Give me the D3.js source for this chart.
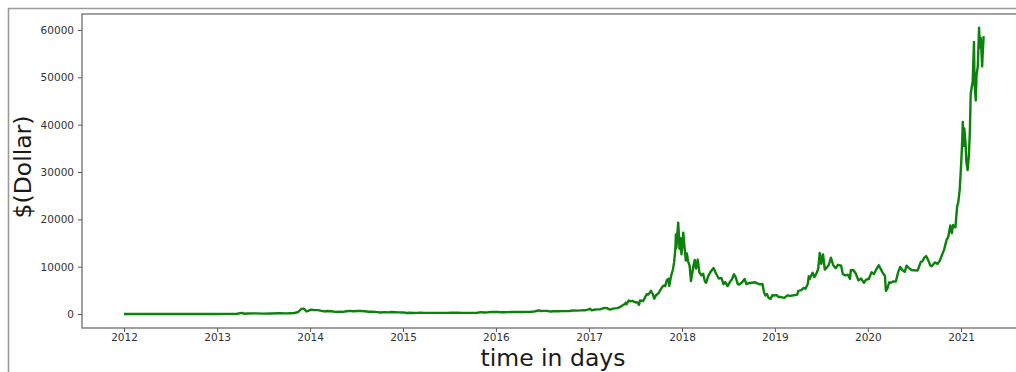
<!DOCTYPE html>
<html>
<head>
<meta charset="utf-8">
<script src="https://cdn.jsdelivr.net/npm/d3@7"></script>
<style>
  html, body { margin: 0; padding: 0; background: #fff; }
  svg { display: block; font-family: "DejaVu Sans", sans-serif; }
</style>
</head>
<body>
<svg id="chart" width="1016" height="372"></svg>
<script>
// Bitcoin closing price (USD), sampled dates
const dates = [
  "2012-01-01","2012-02-01","2012-03-01","2012-04-01","2012-05-01","2012-06-01","2012-07-01","2012-08-01","2012-08-17","2012-09-01",
  "2012-10-01","2012-11-01","2012-12-01","2013-01-01","2013-02-01","2013-03-01","2013-03-20","2013-04-09","2013-04-16","2013-05-01",
  "2013-06-01","2013-07-01","2013-08-01","2013-09-01","2013-10-01","2013-10-15","2013-11-01","2013-11-15","2013-11-22","2013-11-30",
  "2013-12-05","2013-12-10","2013-12-18","2013-12-25","2014-01-05","2014-01-15","2014-02-01","2014-02-15","2014-02-25","2014-03-10",
  "2014-03-25","2014-04-10","2014-04-25","2014-05-10","2014-05-25","2014-06-05","2014-06-20","2014-07-05","2014-07-20","2014-08-05",
  "2014-08-18","2014-09-05","2014-09-22","2014-10-05","2014-10-20","2014-11-05","2014-11-15","2014-12-01","2014-12-15","2014-12-31",
  "2015-01-10","2015-01-14","2015-01-25","2015-02-10","2015-02-25","2015-03-10","2015-03-25","2015-04-10","2015-04-25","2015-05-10",
  "2015-05-25","2015-06-10","2015-06-25","2015-07-10","2015-07-20","2015-08-05","2015-08-20","2015-09-05","2015-09-20","2015-10-05",
  "2015-10-20","2015-11-04","2015-11-15","2015-12-01","2015-12-15","2015-12-31","2016-01-10","2016-01-20","2016-02-01","2016-02-15",
  "2016-03-01","2016-03-15","2016-04-01","2016-04-15","2016-05-01","2016-05-15","2016-06-01","2016-06-12","2016-06-17","2016-06-25",
  "2016-07-05","2016-07-20","2016-08-02","2016-08-15","2016-09-01","2016-09-15","2016-10-01","2016-10-15","2016-11-01","2016-11-15",
  "2016-12-01","2016-12-15","2016-12-31","2017-01-04","2017-01-11","2017-01-20","2017-02-01","2017-02-15","2017-03-03","2017-03-12",
  "2017-03-24","2017-04-05","2017-04-20","2017-05-01","2017-05-10","2017-05-20","2017-05-25","2017-05-28","2017-06-06","2017-06-12",
  "2017-06-20","2017-07-01","2017-07-10","2017-07-16","2017-07-20","2017-08-01","2017-08-08","2017-08-15","2017-08-22","2017-09-01",
  "2017-09-08","2017-09-14","2017-09-20","2017-10-01","2017-10-12","2017-10-20","2017-10-27","2017-11-02","2017-11-08","2017-11-12",
  "2017-11-19","2017-11-26","2017-12-01","2017-12-06","2017-12-08","2017-12-10","2017-12-13","2017-12-17","2017-12-20","2017-12-22",
  "2017-12-26","2017-12-30","2018-01-06","2018-01-10","2018-01-16","2018-01-20","2018-01-25","2018-01-31","2018-02-05","2018-02-10",
  "2018-02-15","2018-02-20","2018-02-25","2018-03-04","2018-03-10","2018-03-18","2018-03-25","2018-04-01","2018-04-06","2018-04-14",
  "2018-04-23","2018-05-05","2018-05-15","2018-05-25","2018-06-05","2018-06-13","2018-06-20","2018-06-29","2018-07-08","2018-07-17",
  "2018-07-24","2018-07-31","2018-08-08","2018-08-14","2018-08-25","2018-09-04","2018-09-11","2018-09-20","2018-10-01","2018-10-15",
  "2018-10-31","2018-11-13","2018-11-20","2018-11-25","2018-12-01","2018-12-07","2018-12-15","2018-12-22","2018-12-28","2019-01-08",
  "2019-01-15","2019-01-25","2019-02-07","2019-02-19","2019-03-01","2019-03-15","2019-03-30","2019-04-03","2019-04-15","2019-04-23",
  "2019-05-01","2019-05-10","2019-05-14","2019-05-17","2019-05-29","2019-06-05","2019-06-14","2019-06-20","2019-06-26","2019-06-28",
  "2019-07-02","2019-07-09","2019-07-16","2019-07-24","2019-08-01","2019-08-09","2019-08-18","2019-08-28","2019-09-06","2019-09-18",
  "2019-09-25","2019-10-05","2019-10-15","2019-10-23","2019-10-26","2019-11-05","2019-11-15","2019-11-25","2019-12-05","2019-12-17",
  "2019-12-25","2020-01-05","2020-01-15","2020-01-25","2020-02-05","2020-02-13","2020-02-20","2020-03-01","2020-03-08","2020-03-12",
  "2020-03-18","2020-03-25","2020-04-01","2020-04-10","2020-04-20","2020-04-29","2020-05-07","2020-05-15","2020-05-25","2020-06-01",
  "2020-06-10","2020-06-20","2020-07-01","2020-07-15","2020-07-27","2020-08-02","2020-08-10","2020-08-17","2020-08-25","2020-09-03",
  "2020-09-08","2020-09-20","2020-10-01","2020-10-10","2020-10-21","2020-10-27","2020-11-05","2020-11-12","2020-11-20","2020-11-26",
  "2020-12-01","2020-12-10","2020-12-17","2020-12-21","2020-12-27","2021-01-02","2021-01-06","2021-01-08","2021-01-11","2021-01-14",
  "2021-01-19","2021-01-22","2021-01-27","2021-02-01","2021-02-05","2021-02-08","2021-02-12","2021-02-16","2021-02-21","2021-02-23",
  "2021-02-28","2021-03-03","2021-03-08","2021-03-13","2021-03-16","2021-03-20","2021-03-25","2021-03-28","2021-03-31"
];

const prices = [
  5.3, 6.0, 4.9, 4.9, 5.0, 5.3, 6.7, 9.4, 11.9, 10.2,
  12.4, 10.6, 12.6, 13.3, 20.4, 34, 64, 230, 68, 116,
  128, 88, 106, 146, 132, 158, 206, 420, 790, 1130,
  1140, 980, 540, 680, 930, 840, 810, 650, 540, 620,
  580, 440, 500, 450, 580, 660, 595, 630, 620, 590,
  475, 480, 400, 320, 385, 340, 420, 380, 345, 320,
  285, 178, 255, 220, 238, 292, 247, 236, 228, 242,
  240, 229, 243, 270, 278, 280, 235, 240, 232, 240,
  270, 403, 320, 378, 455, 430, 448, 380, 373, 400,
  433, 415, 416, 430, 448, 456, 537, 690, 760, 630,
  670, 665, 540, 570, 572, 610, 615, 640, 730, 710,
  756, 780, 964, 1135, 780, 895, 985, 1010, 1285, 1230,
  935, 1130, 1240, 1420, 1750, 2050, 2400, 2050, 2870, 2660,
  2760, 2480, 2430, 1930, 2880, 2720, 3420, 4170, 4100, 4890,
  4230, 3230, 3900, 4400, 5440, 6000, 5900, 7100, 7460, 5950,
  8040, 9300, 10900, 13800, 16800, 14000, 16400, 19300, 16600, 13800,
  16000, 12600, 17200, 14600, 11300, 12800, 11100, 10200, 6950, 8500,
  10200, 11400, 9600, 11500, 8800, 8200, 8500, 6850, 6600, 8000,
  8900, 9700, 8500, 7500, 7600, 6300, 6750, 5900, 6750, 7400,
  8400, 7730, 6300, 6200, 6700, 7400, 6300, 6500, 6600, 6700,
  6300, 6350, 4450, 3900, 4200, 3400, 3200, 3950, 3900, 4000,
  3600, 3580, 3400, 3950, 3840, 3950, 4100, 4900, 5050, 5500,
  5350, 6350, 7980, 7350, 8700, 7800, 8700, 9500, 12900, 12400,
  10600, 12600, 9400, 9800, 10400, 11900, 10300, 9700, 10400, 10200,
  8400, 8150, 8300, 7400, 9250, 9300, 8500, 7100, 7500, 6600,
  7250, 7400, 8800, 8450, 9600, 10300, 9600, 8550, 8100, 4900,
  5400, 6700, 6600, 6900, 6850, 8800, 9950, 9300, 8900, 10200,
  9750, 9300, 9230, 9200, 11000, 11100, 11900, 12250, 11400, 10200,
  10100, 10900, 10600, 11300, 12800, 13650, 15600, 16300, 18700, 17100,
  18800, 18300, 22800, 23500, 26300, 32100, 36800, 40600, 35500, 39200,
  36000, 32100, 30400, 33500, 38900, 46400, 47900, 49200, 57500, 48800,
  45100, 50500, 52300, 60500, 56300, 58300, 52300, 55800, 58700
];

const yearTicks = ["2012","2013","2014","2015","2016","2017","2018","2019","2020","2021"];
const priceTicks = [0, 10000, 20000, 30000, 40000, 50000, 60000];

const parse = d3.timeParse("%Y-%m-%d");
const series = dates.map((d, i) => ({ date: parse(d), price: prices[i] }));

const svg = d3.select("#chart");

// plot box (right edge runs past the window)
const box = { left: 82, top: 14, right: 1024, bottom: 328 };

const x = d3.scaleTime()
  .domain([parse("2012-01-01"), parse("2021-01-01")])
  .range([124, 961]);

const y = d3.scaleLinear()
  .domain([0, 60000])
  .range([314, 30]);

// outer frame around the figure
svg.append("line")
  .attr("x1", 8).attr("x2", 1016).attr("y1", 8.5).attr("y2", 8.5)
  .attr("stroke", "#9a9a9a").attr("stroke-width", 1.6);
svg.append("line")
  .attr("x1", 8.5).attr("x2", 8.5).attr("y1", 8).attr("y2", 372)
  .attr("stroke", "#9a9a9a").attr("stroke-width", 1.6);

// axes
const xAxis = d3.axisBottom(x)
  .tickValues(yearTicks.map(t => d3.timeParse("%Y")(t)))
  .tickFormat(d3.timeFormat("%Y"))
  .tickSize(4).tickPadding(2);

const yAxis = d3.axisLeft(y)
  .tickValues(priceTicks)
  .tickFormat(d3.format("d"))
  .tickSize(4).tickPadding(4);

const gx = svg.append("g").attr("transform", `translate(0,${box.bottom})`).call(xAxis);
const gy = svg.append("g").attr("transform", `translate(${box.left},0)`).call(yAxis);

[gx, gy].forEach(g => {
  g.select(".domain").remove();
  g.selectAll(".tick line").attr("stroke", "#555").attr("stroke-width", 1);
  g.selectAll(".tick text")
    .attr("fill", "#333")
    .style("font-family", "'DejaVu Sans', sans-serif")
    .style("font-size", "10.5px");
});

// plot area spines
svg.append("rect")
  .attr("x", box.left).attr("y", box.top)
  .attr("width", box.right - box.left).attr("height", box.bottom - box.top)
  .attr("fill", "none").attr("stroke", "#6e6e6e").attr("stroke-width", 1.3);

// price line
const line = d3.line()
  .x(d => x(d.date))
  .y(d => y(d.price));

svg.append("path")
  .datum(series)
  .attr("d", line)
  .attr("fill", "none")
  .attr("stroke", "#0c820c")
  .attr("stroke-width", 2.4)
  .attr("stroke-linejoin", "round");

// axis titles
svg.append("text")
  .attr("x", 553).attr("y", 366)
  .attr("text-anchor", "middle")
  .attr("fill", "#1a1a1a")
  .style("font-size", "23.5px")
  .text("time in days");

svg.append("text")
  .attr("transform", "translate(31,167) rotate(-90)")
  .attr("text-anchor", "middle")
  .attr("fill", "#1a1a1a")
  .style("font-size", "23.5px")
  .text("$(Dollar)");
</script>
</body>
</html>
